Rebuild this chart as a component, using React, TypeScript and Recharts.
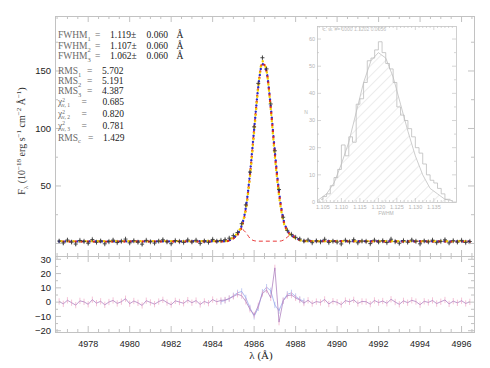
import React from 'react';
import { ComposedChart, Line, Scatter, Area, XAxis, YAxis, ErrorBar } from 'recharts';

const W = 490;
const H = 368;

// observed line profile, one point every 0.2 Å
const wave = [
  4976.6, 4976.8, 4977.0, 4977.2, 4977.4, 4977.6, 4977.8, 4978.0, 4978.2, 4978.4,
  4978.6, 4978.8, 4979.0, 4979.2, 4979.4, 4979.6, 4979.8, 4980.0, 4980.2, 4980.4,
  4980.6, 4980.8, 4981.0, 4981.2, 4981.4, 4981.6, 4981.8, 4982.0, 4982.2, 4982.4,
  4982.6, 4982.8, 4983.0, 4983.2, 4983.4, 4983.6, 4983.8, 4984.0, 4984.2, 4984.4,
  4984.6, 4984.8, 4985.0, 4985.2, 4985.4, 4985.6, 4985.8, 4986.0, 4986.2, 4986.4,
  4986.6, 4986.8, 4987.0, 4987.2, 4987.4, 4987.6, 4987.8, 4988.0, 4988.2, 4988.4,
  4988.6, 4988.8, 4989.0, 4989.2, 4989.4, 4989.6, 4989.8, 4990.0, 4990.2, 4990.4,
  4990.6, 4990.8, 4991.0, 4991.2, 4991.4, 4991.6, 4991.8, 4992.0, 4992.2, 4992.4,
  4992.6, 4992.8, 4993.0, 4993.2, 4993.4, 4993.6, 4993.8, 4994.0, 4994.2, 4994.4,
  4994.6, 4994.8, 4995.0, 4995.2, 4995.4, 4995.6, 4995.8, 4996.0, 4996.2, 4996.4,
];
const flux = [
  2.1, 0.4, 3.0, 1.2, -0.5, 2.6, 1.8, 0.2, 3.4, 1.0,
  2.2, -0.3, 1.6, 2.9, 0.8, 1.9, 3.8, 0.5, 2.4, 1.1,
  -0.6, 2.7, 1.5, 0.3, 2.0, 3.2, 1.4, -0.2, 2.5, 1.7,
  0.9, 3.1, 1.3, 2.8, 0.1, 2.2, 1.0, 3.5, 1.9, 2.6,
  3.3, 4.6, 6.8, 9.5, 17.2, 33.5, 62.1, 101.4, 139.2, 161.5,
  151.8, 121.3, 80.6, 46.9, 22.8, 11.4, 7.9, 5.3, 3.9, 2.1,
  3.0, 0.7, 2.3, 1.4, 3.6, 0.9, 2.0, 1.2, -0.4, 2.8,
  1.5, 3.3, 0.6, 2.1, 1.8, -0.1, 2.9, 1.3, 2.4, 0.8,
  3.7, 1.6, 0.2, 2.5, 1.1, 3.0, 1.9, -0.3, 2.2, 1.4,
  2.9, 0.7, 1.8, 3.2, 0.5, 2.4, 1.2, 2.7, 0.9, 1.7,
];
const FLUX_ERR = 2.4;

// residuals (data - fit)
const resid = [
  0.5, -1.2, 1.3, -0.4, -2.1, 0.9, 0.2, -1.5, 1.7, -0.7,
  0.6, -1.9, 0.1, 1.2, -0.9, 0.3, 2.4, -1.1, 0.8, -0.5,
  -2.3, 1.0, -0.2, -1.4, 0.4, 1.6, -0.3, -1.8, 0.9, 0.1,
  -0.8, 1.4, -0.4, 1.1, -1.6, 0.5, -0.7, 1.8, 0.3, 1.2,
  1.5, 2.5, 4.0, 5.5, 4.5, 0.5, -5.0, -9.0, -2.5, 6.0,
  8.5, 3.0, 24.0, -14.0, 1.0, 4.5, 5.0, 3.0, 1.5, -0.6,
  1.3, -1.0, 0.4, -0.2, 1.9, -1.3, 0.7, -0.1, -1.7, 1.1,
  0.2, 1.6, -0.9, 0.5, 0.3, -1.4, 1.2, -0.3, 0.8, -0.8,
  2.0, 0.1, -1.5, 0.9, -0.4, 1.3, 0.4, -1.8, 0.6, -0.2,
  1.2, -1.0, 0.3, 1.5, -1.2, 0.7, -0.5, 1.0, -0.9, 0.2,
];
const RESID_ERR = 2.2;

// residuals of the second fit, only near the line
const residBWave = [4984.4, 4984.6, 4984.8, 4985.0, 4985.2, 4985.4, 4985.6, 4985.8, 4986.0, 4986.2, 4986.4, 4986.6, 4986.8, 4987.0, 4987.2, 4987.4, 4987.6, 4987.8, 4988.0, 4988.2, 4988.4];
const residB = [0.3, 1.2, 2.5, 4.5, 6.5, 7.5, 3.0, -4.0, -10.0, -4.0, 7.0, 10.5, 8.0, -2.0, -6.0, 1.0, 5.5, 6.5, 4.0, 2.0, 0.5];

// three fitted profiles
const fitWave = [4976.6, 4984.6, 4984.8, 4985.0, 4985.2, 4985.4, 4985.6, 4985.8, 4986.0, 4986.2, 4986.4, 4986.6, 4986.8, 4987.0, 4987.2, 4987.4, 4987.6, 4987.8, 4988.0, 4988.2, 4988.4, 4996.4];
const fit1 = [1.8, 1.9, 2.8, 5.0, 8.2, 15.5, 31.0, 60.5, 99.0, 136.0, 156.0, 149.0, 119.0, 79.5, 45.0, 22.0, 11.5, 7.4, 5.0, 3.2, 2.2, 1.8];
const fit2 = [1.6, 1.8, 2.6, 4.6, 7.6, 14.5, 29.8, 59.5, 98.5, 136.5, 157.0, 149.5, 118.0, 77.5, 43.5, 21.0, 11.0, 7.1, 4.7, 3.0, 2.1, 1.6];
const fit3 = [2.0, 2.1, 3.2, 5.8, 9.2, 16.0, 30.0, 58.0, 97.0, 136.0, 158.5, 150.0, 117.0, 75.0, 41.5, 20.0, 10.5, 6.8, 4.5, 2.9, 2.0, 2.0];

// wing components (red dashed)
const wingWave = [4976.6, 4984.6, 4984.8, 4985.0, 4985.2, 4985.4, 4985.6, 4985.8, 4986.0, 4986.2, 4987.2, 4987.4, 4987.6, 4987.8, 4988.0, 4988.2, 4988.4, 4988.6, 4996.4];
const wingFlux = [2, 2, 2.3, 3.5, 8, 12.5, 9.5, 4.5, 2.4, 2, 2, 2.8, 5.5, 8, 6, 3.2, 2.2, 2, 2];

// inset: FWHM histogram of the Monte Carlo runs
const histBin = [
  1.1045, 1.1055, 1.1065, 1.1075, 1.1085, 1.1095, 1.1105, 1.1115, 1.1125, 1.1135,
  1.1145, 1.1155, 1.1165, 1.1175, 1.1185, 1.1195, 1.1205, 1.1215, 1.1225, 1.1235,
  1.1245, 1.1255, 1.1265, 1.1275, 1.1285, 1.1295, 1.1305, 1.1315, 1.1325, 1.1335,
  1.1345, 1.1355, 1.1365, 1.1375, 1.1385, 1.1395,
];
const histN = [
  1, 2, 3, 6, 9, 12, 21, 17, 24, 22,
  36, 38, 44, 52, 53, 56, 59, 55, 51, 49,
  44, 35, 32, 30, 27, 24, 20, 18, 14, 10,
  8, 7, 5, 3, 1, 1,
];
const histFitX = [1.1035, 1.106, 1.108, 1.110, 1.112, 1.114, 1.116, 1.118, 1.120, 1.122, 1.124, 1.126, 1.128, 1.130, 1.132, 1.134, 1.136, 1.138, 1.140];
const histFitN = [0.5, 3, 7, 14, 22, 33, 44, 52, 55, 53, 46, 36, 26, 17, 10, 5, 3, 1, 0.5];

// tick labels
const xLabels = [4978, 4980, 4982, 4984, 4986, 4988, 4990, 4992, 4994, 4996];
const mainYLabels = [50, 100, 150];
const resYLabels = [-20, -10, 0, 10, 20, 30];
const insetXLabels = [1.105, 1.11, 1.115, 1.12, 1.125, 1.13, 1.135];
const insetYLabels = [0, 10, 20, 30, 40, 50, 60];

// fit statistics
const fwhmVal = ['1.119', '1.107', '1.062'];
const fwhmErr = ['0.060', '0.060', '0.060'];
const rmsVal = ['5.702', '5.191', '4.387'];
const chiVal = ['0.685', '0.820', '0.781'];
const rmsC = '1.429';

const obsRows = wave.map((w, i) => ({ w, f: flux[i], e: FLUX_ERR }));
const residRows = wave.map((w, i) => ({ w, r: resid[i], e: RESID_ERR }));
const residBRows = residBWave.map((w, i) => ({ w, r: residB[i], e: RESID_ERR }));
const fit1Rows = fitWave.map((w, i) => ({ w, f: fit1[i] }));
const fit2Rows = fitWave.map((w, i) => ({ w, f: fit2[i] }));
const fit3Rows = fitWave.map((w, i) => ({ w, f: fit3[i] }));
const wingRows = wingWave.map((w, i) => ({ w, f: wingFlux[i] }));
const histRows = histBin.map((w, i) => ({ w, n: histN[i] }));
const histFitRows = histFitX.map((w, i) => ({ w, n: histFitN[i] }));

const steps = (a: number, b: number, s: number) => {
  const out: number[] = [];
  for (let v = a; v <= b + 1e-9; v += s) out.push(+v.toFixed(4));
  return out;
};
const near = (arr: number[], v: number) => arr.some((a) => Math.abs(a - v) < 1e-6);

const LEFT = 55;
const RIGHT = 474;
const MAIN_TOP = 16;
const MAIN_BOT = 256;
const RES_BOT = 332;
const IL = 317;
const IR = 456;
const IT = 26;
const IB = 202;

const FRAME = '#c2c2c2';
const INSET = '#c4c4c4';
const SANS = '"Liberation Sans", Arial, sans-serif';
const SERIF = '"Liberation Serif", "Times New Roman", serif';

// axes get 1px of room (a zero-size axis is not drawn), margins take the rest
const margins = (top: number, bottom: number, left: number, right: number) => ({
  top,
  right: W - right,
  bottom: H - bottom - 1,
  left: left - 1,
});

const MainXTick = (p: any) => {
  const v = p.payload.value;
  const len = near(xLabels, v) ? 6 : 3;
  return (
    <g>
      <line x1={p.x} x2={p.x} y1={MAIN_TOP} y2={MAIN_TOP + len} stroke={FRAME} />
      <line x1={p.x} x2={p.x} y1={MAIN_BOT} y2={MAIN_BOT - len} stroke={FRAME} />
    </g>
  );
};

const MainYTick = (p: any) => {
  const v = p.payload.value;
  const major = near(mainYLabels, v) || v === 0;
  const len = major ? 6 : 3;
  return (
    <g>
      <line x1={LEFT} x2={LEFT + len} y1={p.y} y2={p.y} stroke={FRAME} />
      <line x1={RIGHT - len} x2={RIGHT} y1={p.y} y2={p.y} stroke={FRAME} />
      {near(mainYLabels, v) && (
        <text x={LEFT - 4} y={p.y} dy="0.35em" textAnchor="end" fontFamily={SANS} fontSize={9.5} fill="#222">
          {v}
        </text>
      )}
    </g>
  );
};

const ResXTick = (p: any) => {
  const v = p.payload.value;
  const major = near(xLabels, v);
  const len = major ? 6 : 3;
  return (
    <g>
      <line x1={p.x} x2={p.x} y1={MAIN_BOT} y2={MAIN_BOT + len} stroke={FRAME} />
      <line x1={p.x} x2={p.x} y1={RES_BOT} y2={RES_BOT - len} stroke={FRAME} />
      {major && (
        <text x={p.x} y={346.5} textAnchor="middle" fontFamily={SANS} fontSize={9} fill="#222">
          {v}
        </text>
      )}
    </g>
  );
};

const ResYTick = (p: any) => {
  const v = p.payload.value;
  const major = near(resYLabels, v);
  const len = major ? 6 : 3;
  return (
    <g>
      <line x1={LEFT} x2={LEFT + len} y1={p.y} y2={p.y} stroke={FRAME} />
      <line x1={RIGHT - len} x2={RIGHT} y1={p.y} y2={p.y} stroke={FRAME} />
      {major && (
        <text x={LEFT - 4} y={p.y} dy="0.35em" textAnchor="end" fontFamily={SANS} fontSize={9.5} fill="#222">
          {v < 0 ? `\u2212${-v}` : v}
        </text>
      )}
    </g>
  );
};

const InsetXTick = (p: any) => {
  const v = p.payload.value;
  const major = near(insetXLabels, v);
  const len = major ? 4 : 2;
  return (
    <g>
      <line x1={p.x} x2={p.x} y1={IT} y2={IT + len} stroke={INSET} strokeWidth={0.7} />
      <line x1={p.x} x2={p.x} y1={IB} y2={IB - len} stroke={INSET} strokeWidth={0.7} />
      {major && (
        <text x={p.x} y={209} textAnchor="middle" fontFamily={SANS} fontSize={5.5} fill="#b4b4b4">
          {v.toFixed(3)}
        </text>
      )}
    </g>
  );
};

const InsetYTick = (p: any) => {
  const v = p.payload.value;
  const major = near(insetYLabels, v);
  const len = major ? 4 : 2;
  return (
    <g>
      <line x1={IL} x2={IL + len} y1={p.y} y2={p.y} stroke={INSET} strokeWidth={0.7} />
      <line x1={IR - len} x2={IR} y1={p.y} y2={p.y} stroke={INSET} strokeWidth={0.7} />
      {major && (
        <text x={IL - 2} y={p.y} dy="0.35em" textAnchor="end" fontFamily={SANS} fontSize={5.5} fill="#b4b4b4">
          {v}
        </text>
      )}
    </g>
  );
};

const Plus = (p: any) => (
  <path d={`M${p.cx - 2},${p.cy}h4M${p.cx},${p.cy - 2}v4`} stroke="#3a3a3a" strokeWidth={0.9} fill="none" />
);

const layer: React.CSSProperties = { position: 'absolute', left: 0, top: 0 };

const Sub = ({ t }: { t: string }) => (
  <tspan dy={2.5} fontSize={6.5}>
    {t}
  </tspan>
);

const App: React.FC = () => {
  const annLabel = '#6a6a6a';
  const annVal = '#222';
  const fwhmY = [38.3, 49, 59];
  const rmsY = [74, 84, 94];
  const chiY = [105, 117, 128.5];
  return (
    <div style={{ position: 'absolute', left: 0, top: 0, width: W, height: H, background: '#fff' }}>
      {/* main panel */}
      <div style={layer}>
        <ComposedChart width={W} height={H} margin={margins(MAIN_TOP, MAIN_BOT, LEFT, RIGHT)}>
          <XAxis
            type="number"
            dataKey="w"
            domain={[4976.4, 4996.6]}
            allowDataOverflow
            ticks={steps(4976.5, 4996.5, 0.5)}
            interval={0}
            height={1}
            axisLine={false}
            tickLine={false}
            tick={MainXTick}
          />
          <YAxis
            type="number"
            domain={[-10.9, 197.8]}
            allowDataOverflow
            ticks={steps(0, 175, 25)}
            interval={0}
            width={1}
            axisLine={false}
            tickLine={false}
            tick={MainYTick}
          />
          <Line data={wingRows} dataKey="f" type="monotone" stroke="#e83a3a" strokeWidth={1} strokeDasharray="4 3" dot={false} isAnimationActive={false} />
          <Scatter data={obsRows} dataKey="f" shape={Plus} isAnimationActive={false}>
            <ErrorBar dataKey="e" direction="y" width={0} stroke="#9a9a9a" strokeWidth={0.7} />
          </Scatter>
          <Line data={fit1Rows} dataKey="f" type="monotone" stroke="#2b2bc8" strokeWidth={2.4} strokeLinecap="round" strokeDasharray="0.1 6" dot={false} isAnimationActive={false} />
          <Line data={fit2Rows} dataKey="f" type="monotone" stroke="#e02a1e" strokeWidth={2.4} strokeLinecap="round" strokeDasharray="0.1 6" strokeDashoffset={2} dot={false} isAnimationActive={false} />
          <Line data={fit3Rows} dataKey="f" type="monotone" stroke="#f0cf00" strokeWidth={2.4} strokeLinecap="round" strokeDasharray="0.1 6" strokeDashoffset={4} dot={false} isAnimationActive={false} />
        </ComposedChart>
      </div>

      {/* residual panel */}
      <div style={layer}>
        <ComposedChart width={W} height={H} margin={margins(MAIN_BOT, RES_BOT, LEFT, RIGHT)}>
          <XAxis
            type="number"
            dataKey="w"
            domain={[4976.4, 4996.6]}
            allowDataOverflow
            ticks={steps(4976.5, 4996.5, 0.5)}
            interval={0}
            height={1}
            axisLine={false}
            tickLine={false}
            tick={ResXTick}
          />
          <YAxis
            type="number"
            domain={[-20.9, 32.3]}
            allowDataOverflow
            ticks={steps(-20, 30, 5)}
            interval={0}
            width={1}
            axisLine={false}
            tickLine={false}
            tick={ResYTick}
          />
          <Line data={residBRows} dataKey="r" type="linear" stroke="#8ea0ea" strokeOpacity={0.7} strokeWidth={1} dot={false} isAnimationActive={false}>
            <ErrorBar dataKey="e" direction="y" width={0} stroke="#b4c0f0" strokeWidth={0.8} />
          </Line>
          <Line data={residRows} dataKey="r" type="linear" stroke="#b083c0" strokeWidth={0.8} dot={false} isAnimationActive={false}>
            <ErrorBar dataKey="e" direction="y" width={0} stroke="#f1a9c6" strokeWidth={0.7} />
          </Line>
        </ComposedChart>
      </div>

      {/* inset histogram */}
      <div style={layer}>
        <ComposedChart width={W} height={H} margin={margins(IT, IB, IL, IR)}>
          <defs>
            <pattern id="hatch" patternUnits="userSpaceOnUse" width={7} height={7} patternTransform="rotate(45)">
              <line x1={0} y1={0} x2={0} y2={7} stroke="#c8c8c8" strokeWidth={0.7} />
            </pattern>
          </defs>
          <XAxis
            type="number"
            dataKey="w"
            domain={[1.1034, 1.141]}
            allowDataOverflow
            ticks={steps(1.104, 1.14, 0.001)}
            interval={0}
            height={1}
            axisLine={false}
            tickLine={false}
            tick={InsetXTick}
          />
          <YAxis
            type="number"
            domain={[0, 64.8]}
            allowDataOverflow
            ticks={steps(0, 60, 5)}
            interval={0}
            width={1}
            axisLine={false}
            tickLine={false}
            tick={InsetYTick}
          />
          <Area data={histFitRows} dataKey="n" type="linear" stroke="#c0c0c0" strokeWidth={0.8} fill="url(#hatch)" fillOpacity={1} isAnimationActive={false} />
          <Line data={histRows} dataKey="n" type="step" stroke="#bdbdbd" strokeWidth={0.8} dot={false} isAnimationActive={false} />
        </ComposedChart>
      </div>

      {/* frames and text */}
      <svg width={W} height={H} style={{ ...layer, pointerEvents: 'none' }}>
        <rect x={LEFT + 0.5} y={MAIN_TOP + 0.5} width={RIGHT - LEFT} height={MAIN_BOT - MAIN_TOP} fill="none" stroke={FRAME} />
        <rect x={LEFT + 0.5} y={MAIN_BOT + 0.5} width={RIGHT - LEFT} height={RES_BOT - MAIN_BOT} fill="none" stroke={FRAME} />
        <rect x={IL + 0.5} y={IT + 0.5} width={IR - IL} height={IB - IT} fill="none" stroke={INSET} strokeWidth={0.8} />

        <text x={323} y={31} fontFamily={SANS} fontSize={5} fill="#bdbdbd">
          c. w. #=   1000    1.1202    0.0056
        </text>
        <text x={386} y={215} textAnchor="middle" fontFamily={SANS} fontSize={5} fill="#b4b4b4">
          FWHM
        </text>
        <text x={306} y={114} textAnchor="middle" fontFamily={SANS} fontSize={5} fill="#b4b4b4">
          N
        </text>

        <g fontFamily={SERIF} fontSize={9.5}>
          {fwhmVal.map((v, i) => (
            <g key={`f${i}`}>
              <text x={58} y={fwhmY[i]} fill={annLabel}>
                FWHM<Sub t={String(i + 1)} />
              </text>
              <text x={95} y={fwhmY[i]} fill={annLabel}>=</text>
              <text x={110} y={fwhmY[i]} fill={annVal}>{v}±</text>
              <text x={146.5} y={fwhmY[i]} fill={annVal}>{fwhmErr[i]}</text>
              <text x={176.5} y={fwhmY[i]} fill={annVal}>Å</text>
            </g>
          ))}
          {rmsVal.map((v, i) => (
            <g key={`r${i}`}>
              <text x={58} y={rmsY[i]} fill={annLabel}>
                RMS<Sub t={String(i + 1)} />
              </text>
              <text x={87} y={rmsY[i]} fill={annLabel}>=</text>
              <text x={102} y={rmsY[i]} fill={annVal}>{v}</text>
            </g>
          ))}
          {chiVal.map((v, i) => (
            <g key={`c${i}`}>
              <text x={58} y={chiY[i]} fill={annLabel}>
                χ<tspan dy={-3.5} fontSize={5.5}>2</tspan>
                <tspan dx={-3} dy={5.5} fontSize={5.5}>{`ν, ${i + 1}`}</tspan>
              </text>
              <text x={81.5} y={chiY[i]} fill={annLabel}>=</text>
              <text x={102.5} y={chiY[i]} fill={annVal}>{v}</text>
            </g>
          ))}
          <text x={58} y={140.5} fill={annLabel}>
            RMS<Sub t="c" />
          </text>
          <text x={88} y={140.5} fill={annLabel}>=</text>
          <text x={103} y={140.5} fill={annVal}>{rmsC}</text>
        </g>

        <text transform="translate(25,141) rotate(-90)" textAnchor="middle" fontFamily={SERIF} fontSize={10} fill="#333">
          F<tspan dy={2.5} fontSize={7}>λ</tspan>
          <tspan dy={-2.5}> (10</tspan>
          <tspan dy={-4} fontSize={7}>−18</tspan>
          <tspan dy={4}> erg s</tspan>
          <tspan dy={-4} fontSize={7}>−1</tspan>
          <tspan dy={4}> cm</tspan>
          <tspan dy={-4} fontSize={7}>−2</tspan>
          <tspan dy={4}> Å</tspan>
          <tspan dy={-4} fontSize={7}>−1</tspan>
          <tspan dy={4}>)</tspan>
        </text>
        <text x={261} y={359} textAnchor="middle" fontFamily={SERIF} fontSize={11} fill="#222">
          λ (Å)
        </text>
      </svg>
    </div>
  );
};

export default App;
